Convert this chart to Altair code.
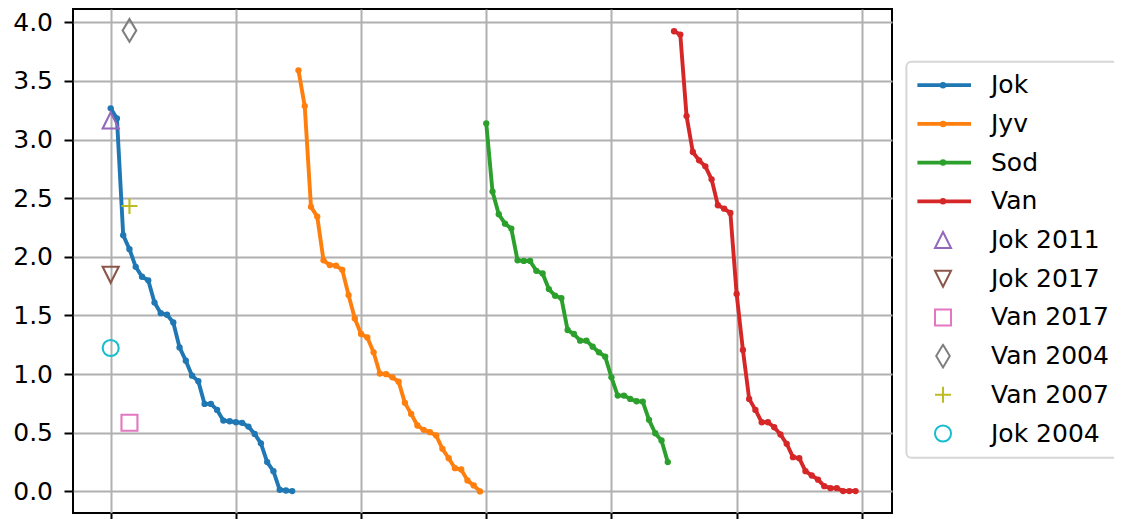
import altair as alt
import pandas as pd

# ---- data ----
series_names = ["Jok", "Jyv", "Sod", "Van"]
jok = [3.266, 3.18, 2.185, 2.065, 1.915, 1.83, 1.80, 1.61, 1.52, 1.506,
       1.44, 1.228, 1.115, 0.987, 0.939, 0.746, 0.746, 0.695, 0.604, 0.598,
       0.59, 0.585, 0.553, 0.49, 0.41, 0.25, 0.173, 0.014, 0.008, 0.003]
jyv = [3.59, 3.285, 2.426, 2.343, 1.97, 1.93, 1.925, 1.889, 1.674, 1.475,
       1.342, 1.313, 1.186, 1.005, 1.0, 0.973, 0.936, 0.755, 0.661, 0.562,
       0.525, 0.505, 0.477, 0.363, 0.283, 0.198, 0.187, 0.094, 0.051, 0.0]
sod = [3.138, 2.556, 2.363, 2.283, 2.241, 1.97, 1.965, 1.965, 1.881, 1.858,
       1.725, 1.668, 1.648, 1.376, 1.342, 1.285, 1.285, 1.234, 1.186, 1.149,
       0.973, 0.817, 0.817, 0.789, 0.769, 0.766, 0.61, 0.496, 0.434, 0.25]
van = [3.923, 3.895, 3.2, 2.894, 2.823, 2.772, 2.661, 2.44, 2.411, 2.374,
       1.683, 1.206, 0.789, 0.695, 0.59, 0.59, 0.547, 0.485, 0.406, 0.292,
       0.283, 0.173, 0.136, 0.1, 0.045, 0.028, 0.028, 0.003, 0.003, 0.003]

marker_names = ["Jok 2011", "Jok 2017", "Van 2017", "Van 2004", "Van 2007", "Jok 2004"]
marker_x = [0, 0, 3, 3, 3, 0]
marker_y = [3.163, 1.847, 0.585, 3.93, 2.434, 1.223]

x_ticks = [0, 20, 40, 60, 80, 100, 120]
y_ticks = [0.0, 0.5, 1.0, 1.5, 2.0, 2.5, 3.0, 3.5, 4.0]

legend_order = series_names + marker_names
colors = ["#1f77b4", "#ff7f0e", "#2ca02c", "#d62728", "#9467bd",
          "#8c564b", "#e377c2", "#7f7f7f", "#bcbd22", "#17becf"]

# symbol paths (unit = sqrt(size)/2 px)
line_sym = ("M-1,-0.03L1,-0.03M-1,0.03L1,0.03"
            "M-0.035,0A0.035,0.035 0 1,0 0.035,0A0.035,0.035 0 1,0 -0.035,0"
            "M-0.08,0A0.08,0.08 0 1,0 0.08,0A0.08,0.08 0 1,0 -0.08,0")
tri_up = "M0,-0.287L0.287,0.287L-0.287,0.287Z"
tri_down = "M0,0.287L0.287,-0.287L-0.287,-0.287Z"
square = "M-0.285,-0.285L0.285,-0.285L0.285,0.285L-0.285,0.285Z"
thin_diamond = "M0,-0.405L0.243,0L0,0.405L-0.243,0Z"
plus = "M-0.287,0L0.287,0M0,-0.287L0,0.287"
circle = "M-0.287,0A0.287,0.287 0 1,0 0.287,0A0.287,0.287 0 1,0 -0.287,0"
shapes = [line_sym, line_sym, line_sym, line_sym,
          tri_up, tri_down, square, thin_diamond, plus, circle]

rows = []
offset = 0
for name, vals in zip(series_names, [jok, jyv, sod, van]):
    for i, v in enumerate(vals):
        rows.append({"name": name, "x": offset + i, "y": v})
    offset += len(vals)
lines_df = pd.DataFrame(rows)
markers_df = pd.DataFrame({"name": marker_names, "x": marker_x, "y": marker_y})

FONT = "DejaVu Sans"
FS = 25

xscale = alt.Scale(domain=[-6.02, 124.82], nice=False, zero=False)
yscale = alt.Scale(domain=[-0.184, 4.113], nice=False, zero=False)
series_scale = alt.Scale(domain=series_names, range=colors[:4])
color_scale = alt.Scale(domain=legend_order, range=colors)
shape_scale = alt.Scale(domain=legend_order, range=shapes)

x_enc = alt.X("x:Q", scale=xscale,
              axis=alt.Axis(values=x_ticks, title=None, format="d",
                            labelFont=FONT, labelFontSize=FS))
y_enc = alt.Y("y:Q", scale=yscale,
              axis=alt.Axis(values=y_ticks, title=None, format=".1f",
                            labelFont=FONT, labelFontSize=FS))

legend = alt.Legend(
    title=None, orient="none", legendX=833.4, legendY=52.7, padding=11,
    fillColor="white", strokeColor="#d6d6d6", cornerRadius=5,
    labelFont=FONT, labelFontSize=FS, labelColor="black", labelLimit=400,
    symbolSize=3136, symbolStrokeWidth=2, clipHeight=25, rowPadding=12.7,
    symbolOffset=-3.4, labelOffset=19,
)

lines = alt.Chart(lines_df).mark_line(strokeWidth=3.9, strokeJoin="round").encode(
    x=x_enc, y=y_enc,
    stroke=alt.Stroke("name:N", scale=series_scale, legend=None),
)
dots = alt.Chart(lines_df).mark_circle(size=40, opacity=1).encode(
    x=x_enc, y=y_enc,
    fill=alt.Fill("name:N", scale=series_scale, legend=None),
)
markers = alt.Chart(markers_df).mark_point(filled=False, strokeWidth=2.1, size=3136, opacity=1).encode(
    x=x_enc, y=y_enc,
    color=alt.Color("name:N", scale=color_scale, legend=legend),
    shape=alt.Shape("name:N", scale=shape_scale, legend=legend),
)

chart = alt.layer(lines, dots, markers).properties(
    width=819, height=504,
    padding={"left": 65, "top": 1, "right": 222, "bottom": 30},
    autosize=alt.AutoSizeParams(type="none"),
).configure_view(
    stroke="black", strokeWidth=2
).configure_axis(
    labelFont=FONT, labelFontSize=FS, labelColor="black",
    tickColor="black", tickWidth=2, tickSize=9, labelPadding=11.5,
    gridColor="#b0b0b0", gridWidth=2, grid=True, domain=False,
).configure_legend(
    strokeWidth=2
)

chart.save("out.html", embed_options={"renderer": "svg", "actions": False})
